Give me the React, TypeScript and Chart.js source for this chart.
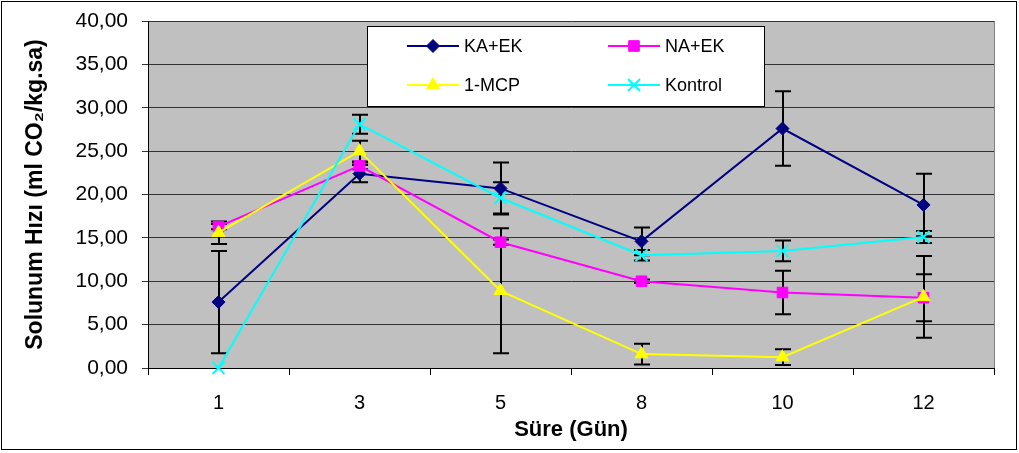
import React, { useEffect, useRef } from 'react';
import { Chart, registerables } from 'chart.js';
import { drawPoint } from 'chart.js/helpers';

Chart.register(...registerables);

// Respiration rate per storage day, with ± error values
const days = ['1', '3', '5', '8', '10', '12'];

const kaEk = [7.6, 22.4, 20.7, 14.6, 27.6, 18.8];
const kaEkErr = [5.9, 1.0, 3.0, 1.6, 4.3, 3.6];

const naEk = [16.3, 23.3, 14.5, 10.0, 8.7, 8.1];
const naEkErr = [0.3, 0.4, 0.3, 0.2, 2.5, 2.7];

const mcp = [15.6, 25.0, 8.9, 1.6, 1.25, 8.2];
const mcpErr = [1.3, 1.2, 7.2, 1.2, 0.9, 4.7];

const kontrol = [0.0, 28.1, 19.6, 13.0, 13.5, 15.1];
const kontrolErr = [0.0, 1.1, 1.8, 0.6, 1.2, 0.7];

const yMin = 0;
const yMax = 40;
const yStep = 5;

const FONT = "'Liberation Sans', Arial, sans-serif";

const errorSets = [kaEkErr, naEkErr, mcpErr, kontrolErr];

const backgroundPlugin = {
  id: 'plotBackground',
  beforeDraw(chart: any) {
    const { ctx, chartArea, width, height } = chart;
    ctx.save();
    ctx.fillStyle = '#ffffff';
    ctx.fillRect(0, 0, width, height);
    ctx.fillStyle = '#C0C0C0';
    ctx.fillRect(chartArea.left, chartArea.top, chartArea.right - chartArea.left, chartArea.bottom - chartArea.top);
    ctx.restore();
  },
};

const errorBarPlugin = {
  id: 'errorBars',
  beforeDatasetsDraw(chart: any) {
    const { ctx } = chart;
    const yScale = chart.scales.y;
    ctx.save();
    // right edge of the plot area
    ctx.strokeStyle = '#808080';
    ctx.lineWidth = 1;
    ctx.beginPath();
    ctx.moveTo(Math.round(chart.chartArea.right) + 0.5, chart.chartArea.top);
    ctx.lineTo(Math.round(chart.chartArea.right) + 0.5, chart.chartArea.bottom);
    ctx.stroke();

    ctx.strokeStyle = '#000000';
    ctx.lineWidth = 2;
    chart.data.datasets.forEach((ds: any, i: number) => {
      const meta = chart.getDatasetMeta(i);
      const errs = errorSets[i];
      meta.data.forEach((pt: any, j: number) => {
        const e = errs[j];
        if (!e) return;
        const v = ds.data[j];
        const yTop = yScale.getPixelForValue(v + e);
        const yBot = yScale.getPixelForValue(v - e);
        const x = Math.round(pt.x);
        ctx.beginPath();
        ctx.moveTo(x, yTop);
        ctx.lineTo(x, yBot);
        ctx.moveTo(x - 8, yTop);
        ctx.lineTo(x + 8, yTop);
        ctx.moveTo(x - 8, yBot);
        ctx.lineTo(x + 8, yBot);
        ctx.stroke();
      });
    });
    ctx.restore();
  },
};

const legendPlugin = {
  id: 'insetLegend',
  afterDraw(chart: any) {
    const { ctx } = chart;
    const box = { x: 367.5, y: 26.5, w: 397, h: 80 };
    ctx.save();
    ctx.fillStyle = '#ffffff';
    ctx.fillRect(box.x, box.y, box.w, box.h);
    ctx.strokeStyle = '#000000';
    ctx.lineWidth = 1;
    ctx.strokeRect(box.x, box.y, box.w, box.h);

    const cols = [407, 608];
    const rows = [46, 85];
    chart.data.datasets.forEach((ds: any, i: number) => {
      const x0 = cols[i % 2];
      const y0 = rows[Math.floor(i / 2)];
      ctx.strokeStyle = ds.borderColor;
      ctx.lineWidth = 2;
      ctx.beginPath();
      ctx.moveTo(x0, y0);
      ctx.lineTo(x0 + 52, y0);
      ctx.stroke();
      ctx.fillStyle = ds.pointBackgroundColor;
      ctx.strokeStyle = ds.borderColor;
      ctx.lineWidth = ds.pointBorderWidth;
      drawPoint(ctx, { pointStyle: ds.pointStyle, radius: ds.pointRadius, rotation: 0, borderWidth: ds.pointBorderWidth }, x0 + 26, y0);
      ctx.fillStyle = '#000000';
      ctx.font = `18px ${FONT}`;
      ctx.textBaseline = 'middle';
      ctx.textAlign = 'left';
      ctx.fillText(ds.label, x0 + 57, y0 + 1);
    });

    // outer frame of the whole figure
    ctx.strokeStyle = '#000000';
    ctx.lineWidth = 1;
    ctx.strokeRect(1.5, 1.5, 1015, 448);
    ctx.restore();
  },
};

function series(label: string, data: number[], color: string, style: string, radius: number, pbw: number, order: number) {
  return {
    label,
    data,
    borderColor: color,
    backgroundColor: color,
    pointBackgroundColor: color,
    pointBorderColor: color,
    pointStyle: style,
    pointRadius: radius,
    pointHoverRadius: radius,
    pointBorderWidth: pbw,
    borderWidth: 2,
    tension: 0,
    fill: false,
    clip: false,
    order,
  };
}

export default function App() {
  const ref = useRef<HTMLCanvasElement | null>(null);

  useEffect(() => {
    document.body.style.margin = '0';
    const canvas = ref.current;
    if (!canvas) return;
    const chart = new Chart(canvas, {
      type: 'line',
      data: {
        labels: days,
        datasets: [
          series('KA+EK', kaEk, '#000080', 'rectRot', 6.5, 1, 3),
          series('NA+EK', naEk, '#FF00FF', 'rect', 7.5, 1, 2),
          series('1-MCP', mcp, '#FFFF00', 'triangle', 7.5, 1, 1),
          series('Kontrol', kontrol, '#00FFFF', 'crossRot', 8.5, 2, 0),
        ] as any,
      },
      options: {
        responsive: false,
        animation: false,
        events: [],
        layout: { padding: { left: 0, right: 25, top: 21, bottom: 0 } },
        plugins: {
          legend: { display: false },
          tooltip: { enabled: false },
        },
        scales: {
          x: {
            type: 'category',
            offset: true,
            grid: { offset: true, drawOnChartArea: false, tickLength: 7, color: '#000000', lineWidth: 1 },
            border: { color: '#000000', width: 1 },
            ticks: { padding: 16, color: '#000000', font: { family: FONT, size: 20 } },
            title: {
              display: true,
              text: 'Süre (Gün)',
              color: '#000000',
              font: { family: FONT, size: 22, weight: 'bold' },
              padding: { top: 0, bottom: 10 },
            },
            afterFit: (s: any) => { s.height = 85; },
          },
          y: {
            min: yMin,
            max: yMax,
            ticks: {
              stepSize: yStep,
              padding: 14,
              color: '#000000',
              font: { family: FONT, size: 21 },
              callback: (v: any) => Number(v).toFixed(2).replace('.', ','),
            },
            grid: { color: '#333333', lineWidth: 1, tickLength: 6 },
            border: { color: '#000000', width: 1 },
            title: {
              display: true,
              text: 'Solunum Hızı (ml CO₂/kg.sa)',
              color: '#000000',
              font: { family: FONT, size: 23, weight: 'bold' },
              padding: { top: 22, bottom: 0 },
            },
            afterFit: (s: any) => {
              s.width = 148;
              s.paddingTop = 0;
              s.paddingBottom = 0;
            },
          },
        },
      } as any,
      plugins: [backgroundPlugin, errorBarPlugin, legendPlugin],
    });
    return () => chart.destroy();
  }, []);

  return (
    <div style={{ width: 1019, height: 453 }}>
      <canvas ref={ref} width={1019} height={453} style={{ display: 'block' }} />
    </div>
  );
}
